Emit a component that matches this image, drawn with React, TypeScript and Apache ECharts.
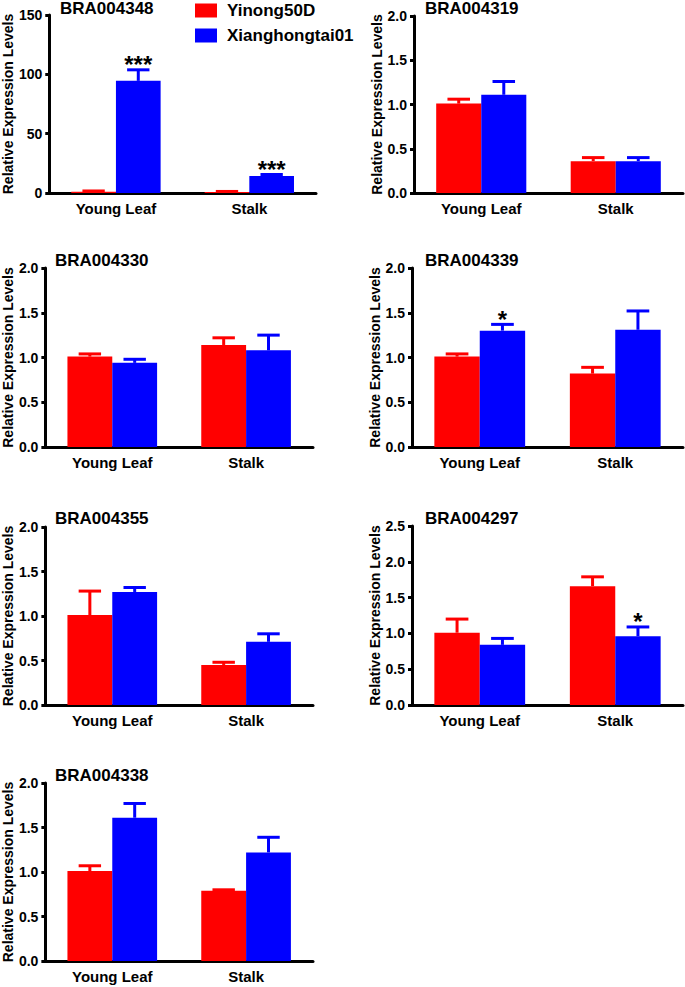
import React, { useEffect, useRef } from 'react';
import * as echarts from 'echarts';

const categories = ['Young Leaf', 'Stalk'];
const seriesNames = ['Yinong50D', 'Xianghongtai01'];
const genes = ['BRA004348', 'BRA004319', 'BRA004330', 'BRA004339', 'BRA004355', 'BRA004297', 'BRA004338'];

// mean values [Young Leaf, Stalk]
const yinongMean = [[1.0, 0.9], [1.01, 0.36], [1.01, 1.14], [1.01, 0.82], [1.01, 0.45], [1.01, 1.66], [1.01, 0.79]];
const yinongErrTop = [[1.7, 1.3], [1.06, 0.40], [1.04, 1.22], [1.04, 0.89], [1.28, 0.48], [1.20, 1.79], [1.07, 0.80]];
const xiangMean = [[94.5, 14.3], [1.11, 0.36], [0.94, 1.08], [1.30, 1.31], [1.27, 0.71], [0.84, 0.96], [1.61, 1.22]];
const xiangErrTop = [[103.8, 15.6], [1.26, 0.40], [0.98, 1.25], [1.37, 1.52], [1.32, 0.80], [0.93, 1.09], [1.77, 1.39]];
const yinongSig = [['', ''], ['', ''], ['', ''], ['', ''], ['', ''], ['', ''], ['', '']];
const xiangSig = [['***', '***'], ['', ''], ['', ''], ['*', ''], ['', ''], ['', '*'], ['', '']];

const yMax = [150, 2, 2, 2, 2, 2.5, 2];
const yInterval = [50, 0.5, 0.5, 0.5, 0.5, 0.5, 0.5];
const yDecimals = [0, 1, 1, 1, 1, 1, 1];

const colors = ['#FF0000', '#0000FF'];

const layout = [
  { left: 49, top: 15, width: 267, height: 178, nameGap: 34, titleX: 60, titleY: 8 },
  { left: 414, top: 16, width: 269, height: 177, nameGap: 30, titleX: 425, titleY: 8 },
  { left: 42, top: 268, width: 271, height: 179, nameGap: 27, titleX: 55, titleY: 260 },
  { left: 412, top: 268, width: 271, height: 179, nameGap: 28, titleX: 425, titleY: 260 },
  { left: 42, top: 527, width: 271, height: 178, nameGap: 27, titleX: 55, titleY: 518 },
  { left: 412, top: 526, width: 271, height: 179, nameGap: 28, titleX: 425, titleY: 518 },
  { left: 43, top: 783, width: 270, height: 178, nameGap: 28, titleX: 55, titleY: 775 },
];

const BW = 0.335;
const FONT = '"Liberation Sans", Arial, sans-serif';

export default function App() {
  const ref = useRef<HTMLDivElement>(null);

  useEffect(() => {
    const chart = echarts.init(ref.current!, null, { renderer: 'svg' });
    const grids: any[] = [];
    const xAxes: any[] = [];
    const yAxes: any[] = [];
    const series: any[] = [];
    const titles: any[] = [];

    genes.forEach((g, i) => {
      const L = layout[i];
      grids.push({ left: L.left, top: L.top, width: L.width, height: L.height, containLabel: false });
      xAxes.push({
        type: 'category',
        gridIndex: i,
        data: categories,
        axisLine: { lineStyle: { color: '#000', width: 3 } },
        axisTick: { alignWithLabel: true, length: 5, lineStyle: { color: '#000', width: 3 } },
        axisLabel: { color: '#000', fontWeight: 'bold', fontSize: 15, fontFamily: FONT, margin: 8 },
        splitLine: { show: false },
      });
      const dec = yDecimals[i];
      yAxes.push({
        type: 'value',
        gridIndex: i,
        min: 0,
        max: yMax[i],
        interval: yInterval[i],
        name: 'Relative Expression Levels',
        nameLocation: 'middle',
        nameRotate: 90,
        nameGap: L.nameGap,
        nameTextStyle: { color: '#000', fontWeight: 'bold', fontSize: 14, fontFamily: FONT },
        axisLine: { show: true, lineStyle: { color: '#000', width: 3 } },
        axisTick: { show: true, length: 4, lineStyle: { color: '#000', width: 3 } },
        axisLabel: {
          color: '#000', fontWeight: 'bold', fontSize: 14, fontFamily: FONT, margin: 7,
          formatter: (v: number) => v.toFixed(dec),
        },
        splitLine: { show: false },
      });

      const means = [yinongMean[i], xiangMean[i]];
      const errs = [yinongErrTop[i], xiangErrTop[i]];
      const sigs = [yinongSig[i], xiangSig[i]];

      means.forEach((m, s) => {
        series.push({
          type: 'bar',
          name: seriesNames[s],
          xAxisIndex: i,
          yAxisIndex: i,
          data: m,
          barWidth: (BW * 100).toFixed(1) + '%',
          barGap: '0%',
          itemStyle: { color: colors[s] },
          z: 2,
        });
      });

      const errData: number[][] = [];
      const errSig: string[] = [];
      for (let s = 0; s < 2; s++) {
        for (let c = 0; c < categories.length; c++) {
          errData.push([c, s, means[s][c], errs[s][c]]);
          errSig.push(sigs[s][c]);
        }
      }

      series.push({
        type: 'custom',
        xAxisIndex: i,
        yAxisIndex: i,
        data: errData,
        encode: { x: 0, y: [2, 3] },
        z: 3,
        silent: true,
        renderItem: (params: any, api: any) => {
          const c = api.value(0);
          const s = api.value(1);
          const mean = api.value(2);
          const top = api.value(3);
          const pMean = api.coord([c, mean]);
          const pTop = api.coord([c, top]);
          const band = api.size([1, 0])[0];
          const bw = band * BW;
          const cx = pMean[0] + (s === 0 ? -bw / 2 : bw / 2);
          const capW = bw * 0.5;
          const color = colors[s];
          const children: any[] = [
            { type: 'line', shape: { x1: cx, y1: pMean[1], x2: cx, y2: pTop[1] }, style: { stroke: color, lineWidth: 3 } },
            { type: 'line', shape: { x1: cx - capW / 2, y1: pTop[1], x2: cx + capW / 2, y2: pTop[1] }, style: { stroke: color, lineWidth: 3 } },
          ];
          const sig = errSig[params.dataIndex];
          if (sig) {
            children.push({
              type: 'text',
              x: cx,
              y: pTop[1] - 5,
              style: {
                text: sig,
                fill: '#000',
                fontSize: 24,
                fontWeight: 'bold',
                fontFamily: FONT,
                align: 'center',
                verticalAlign: 'middle',
              },
            });
          }
          return { type: 'group', children };
        },
      });

      titles.push({
        text: g,
        left: L.titleX,
        top: L.titleY - 8,
        padding: 0,
        textStyle: { color: '#000', fontSize: 17, fontWeight: 'bold', fontFamily: FONT, lineHeight: 16 },
      });
    });

    chart.setOption({
      animation: false,
      backgroundColor: '#fff',
      title: titles,
      grid: grids,
      xAxis: xAxes,
      yAxis: yAxes,
      series,
      legend: {
        data: seriesNames,
        orient: 'vertical',
        left: 195,
        top: 2,
        padding: 0,
        itemWidth: 22,
        itemHeight: 14,
        itemGap: 8,
        icon: 'rect',
        textStyle: { color: '#000', fontSize: 17, fontWeight: 'bold', fontFamily: FONT, padding: [0, 0, 0, 5] },
      },
    });

    return () => chart.dispose();
  }, []);

  return <div ref={ref} style={{ position: 'fixed', left: 0, top: 0, width: 685, height: 987 }} />;
}
